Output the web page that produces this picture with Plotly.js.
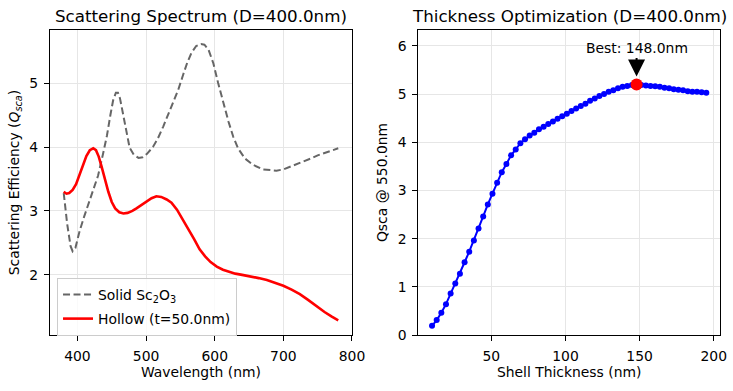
<!DOCTYPE html>
<html>
<head>
<meta charset="utf-8">
<script src="https://cdn.plot.ly/plotly-3.0.1.min.js"></script>
<style>html,body{margin:0;padding:0;background:#fff}#chart{width:733px;height:391px}</style>
</head>
<body>
<div id="chart"></div>
<script>
// ---- Left panel: scattering spectrum ----
const wavelengthSolid = [380,385,390,393,397,403,410,420,430,437,443,448,452,456,459,462,466,471,476,482,489,495,501,510,517,525,532,540,547,554,560,566,573,580,585,591,598,605,612,620,627,634,644,656,670,685,690,700,710,720,730,740,750,760,770,780];
const qSolid = [3.28,2.80,2.45,2.37,2.42,2.68,2.92,3.22,3.55,3.88,4.18,4.50,4.73,4.85,4.85,4.76,4.55,4.23,3.99,3.88,3.83,3.84,3.89,4.00,4.13,4.32,4.50,4.69,4.90,5.13,5.32,5.47,5.58,5.61,5.60,5.52,5.31,5.00,4.70,4.40,4.16,3.98,3.82,3.72,3.65,3.63,3.63,3.65,3.69,3.73,3.78,3.82,3.87,3.91,3.95,3.98];
const wavelengthHollow = [380,384,388,393,398,403,408,413,418,423,427,431,435,440,445,450,455,461,467,473,480,486,493,500,508,515,522,530,537,545,554,562,570,578,586,594,603,612,620,630,640,652,664,676,688,700,712,724,736,748,760,770,780];
const qHollow = [3.30,3.27,3.28,3.33,3.42,3.56,3.72,3.86,3.95,3.98,3.95,3.85,3.70,3.48,3.30,3.14,3.04,2.98,2.96,2.97,3.00,3.04,3.09,3.15,3.20,3.23,3.22,3.18,3.13,3.02,2.86,2.70,2.56,2.40,2.29,2.20,2.13,2.08,2.05,2.02,2.00,1.98,1.95,1.92,1.88,1.83,1.77,1.70,1.61,1.51,1.42,1.35,1.29];
const seriesNames = ["Solid Sc<sub>2</sub>O<sub>3</sub>", "Hollow (t=50.0nm)"];

// ---- Right panel: thickness optimization ----
const thickness = [10.00,13.14,16.27,19.41,22.54,25.68,28.81,31.95,35.08,38.22,41.36,44.49,47.63,50.76,53.90,57.03,60.17,63.31,66.44,69.58,72.71,75.85,78.98,82.12,85.25,88.39,91.53,94.66,97.80,100.93,104.07,107.20,110.34,113.47,116.61,119.75,122.88,126.02,129.15,132.29,135.42,138.56,141.69,144.83,147.97,151.10,154.24,157.37,160.51,163.64,166.78,169.92,173.05,176.19,179.32,182.46,185.59,188.73,191.86,195.00];
const qThick = [0.19,0.31,0.46,0.64,0.86,1.07,1.27,1.51,1.73,1.96,2.21,2.46,2.71,2.93,3.16,3.38,3.55,3.73,3.85,3.98,4.06,4.14,4.20,4.27,4.32,4.38,4.43,4.49,4.54,4.59,4.65,4.70,4.75,4.80,4.86,4.91,4.96,5.00,5.05,5.08,5.12,5.15,5.17,5.19,5.20,5.19,5.18,5.17,5.16,5.15,5.13,5.12,5.10,5.09,5.08,5.06,5.05,5.05,5.04,5.03];

const titles = ["Scattering Spectrum (D=400.0nm)", "Thickness Optimization (D=400.0nm)"];

let bestIdx = 0;
qThick.forEach((v, i) => { if (v > qThick[bestIdx]) bestIdx = i; });
const bestX = thickness[bestIdx], bestY = qThick[bestIdx];

const FONT = "DejaVu Sans, sans-serif";
const FS = 13.9;
const gridC = "#e6e6e6";

const traces = [
  {x: wavelengthSolid, y: qSolid, type: "scatter", mode: "lines", name: seriesNames[0],
   line: {color: "#666666", width: 2, dash: "7px,3.5px"}, xaxis: "x", yaxis: "y", legendgroup: "a"},
  {x: wavelengthHollow, y: qHollow, type: "scatter", mode: "lines", name: seriesNames[1],
   line: {color: "#ff0000", width: 2.6}, xaxis: "x", yaxis: "y", legendgroup: "b"},
  {x: thickness, y: qThick, type: "scatter", mode: "lines+markers", showlegend: false,
   line: {color: "#0000ff", width: 2}, marker: {color: "#0000ff", size: 6}, xaxis: "x2", yaxis: "y2"},
  {x: [bestX], y: [bestY], type: "scatter", mode: "markers", showlegend: false,
   marker: {color: "#ff0000", size: 12}, xaxis: "x2", yaxis: "y2"}
];

const axBase = {
  showline: true, mirror: true, linecolor: "#000", linewidth: 1,
  ticks: "outside", ticklen: 5, tickwidth: 1, tickcolor: "#000",
  showgrid: true, gridcolor: gridC, gridwidth: 1, zeroline: false,
  tickfont: {family: FONT, size: FS, color: "#000"}, ticklabelstandoff: 3
};

const layout = {
  width: 733, height: 391,
  margin: {l: 0, r: 0, t: 0, b: 0},
  paper_bgcolor: "#fff", plot_bgcolor: "#fff",
  font: {family: FONT, size: FS, color: "#000"},
  showlegend: true,
  legend: {x: 0.0778, y: 0.289, xanchor: "left", yanchor: "top",
    bgcolor: "rgba(255,255,255,0.8)", bordercolor: "#cccccc", borderwidth: 1,
    font: {family: FONT, size: FS, color: "#000"}, tracegroupgap: 3},
  xaxis: Object.assign({}, axBase, {domain: [0.0682, 0.4802], range: [360, 800], tickvals: [400,500,600,700,800],
    title: {text: "Wavelength (nm)", font: {family: FONT, size: FS}, standoff: 4}, anchor: "y"}),
  yaxis: Object.assign({}, axBase, {domain: [0.1432, 0.9233], range: [1.06, 5.83], tickvals: [2,3,4,5],
    title: {text: "Scattering Efficiency (<i>Q</i><sub><i>sca</i></sub>)", font: {family: FONT, size: FS}, standoff: 6}, anchor: "x"}),
  xaxis2: Object.assign({}, axBase, {domain: [0.5707, 0.9823], range: [0.75, 204.25], tickvals: [50,100,150,200],
    title: {text: "Shell Thickness (nm)", font: {family: FONT, size: FS}, standoff: 4}, anchor: "y2"}),
  yaxis2: Object.assign({}, axBase, {domain: [0.1432, 0.9233], range: [0, 6.33], tickvals: [0,1,2,3,4,5,6],
    title: {text: "Qsca @ 550.0nm", font: {family: FONT, size: FS}, standoff: 6}, anchor: "x2"}),
  annotations: [
    {text: titles[0], xref: "paper", yref: "paper", x: (0.0682 + 0.4802) / 2, y: 1 - 16 / 391,
     xanchor: "center", yanchor: "middle", showarrow: false, font: {family: FONT, size: 16.7, color: "#000"}},
    {text: titles[1], xref: "paper", yref: "paper", x: (0.5707 + 0.9823) / 2, y: 1 - 16 / 391,
     xanchor: "center", yanchor: "middle", showarrow: false, font: {family: FONT, size: 16.7, color: "#000"}},
    {text: "Best: " + bestX.toFixed(1) + "nm", xref: "x2", yref: "y2", x: bestX, y: bestY,
     showarrow: true, arrowhead: 2, arrowsize: 1.7, arrowwidth: 2, arrowcolor: "#000",
     ax: 0, ay: -36, standoff: 8, font: {family: FONT, size: FS, color: "#000"}}
  ]
};

Plotly.newPlot("chart", traces, layout, {staticPlot: true, displayModeBar: false});
</script>
</body>
</html>
